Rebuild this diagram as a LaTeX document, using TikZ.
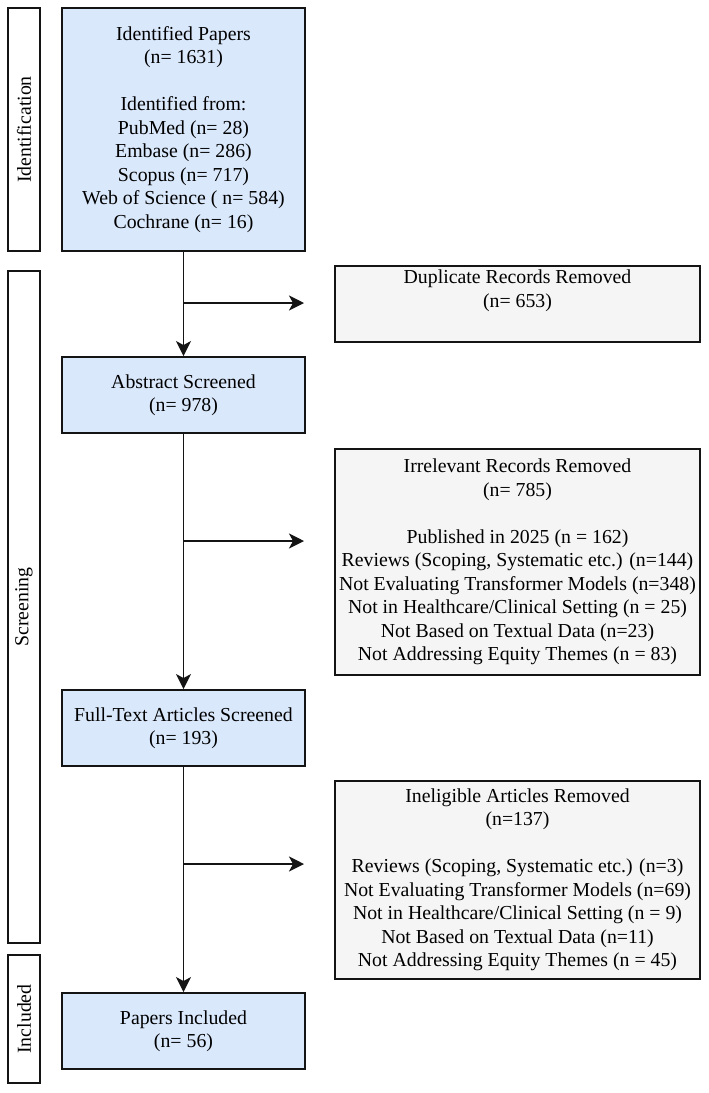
\documentclass[tikz,border=0pt]{standalone}
\usepackage{fontspec}
\setmainfont{Liberation Serif}
\usetikzlibrary{arrows.meta}
\definecolor{blueF}{HTML}{DAE8FC}
\definecolor{grayF}{HTML}{F5F5F5}
\definecolor{lineC}{HTML}{141414}
\begin{document}
\begin{tikzpicture}[x=1pt,y=-1pt,
  every node/.style={font=\fontsize{19.8}{23.5}\selectfont, inner sep=0pt, align=center, text=black},
  box/.style={draw=lineC, line width=1.9pt, rectangle},
  bluebox/.style={box, fill=blueF, minimum width=243pt},
  graybox/.style={box, fill=grayF, minimum width=365pt},
  sidebox/.style={box, fill=white, rotate=90, minimum height=32pt},
  flow/.style={draw=lineC, line width=1.9pt},
  arr/.style={flow, -{Stealth[length=15pt,width=15pt,inset=4pt]}}]
\useasboundingbox (0,0) rectangle (709,1093);

% stage boxes on the left
\node[sidebox, minimum width=243pt] (sid) at (24,129.5) {Identification};
\node[sidebox, minimum width=672pt] (sscr) at (24,607) {Screening};
\node[sidebox, minimum width=128pt] (sinc) at (24,1019) {Included};

% main flow
\node[bluebox, minimum height=243pt] (id) at (183.5,129.5)
  {Identified Papers\\(n= 1631)\\[23.5pt]Identified from:\\PubMed (n= 28)\\Embase (n= 286)\\Scopus (n= 717)\\Web of Science ( n= 584)\\Cochrane (n= 16)};
\node[bluebox, minimum height=76pt] (abs) at (183.5,395) {Abstract Screened\\(n= 978)};
\node[bluebox, minimum height=76pt] (ft) at (183.5,728) {Full-Text Articles Screened\\(n= 193)};
\node[bluebox, minimum height=76pt] (inc) at (183.5,1031) {Papers Included\\(n= 56)};

% exclusion boxes
\node[graybox, minimum height=76pt] (dup) at (517.5,304) {Duplicate Records Removed\\(n= 653)\\\strut};
\node[graybox, minimum height=226pt] (irr) at (517.5,562)
  {Irrelevant Records Removed\\(n= 785)\\[23.5pt]Published in 2025 (n = 162)\\Reviews (Scoping, Systematic etc.) (n=144)\\Not Evaluating Transformer Models (n=348)\\Not in Healthcare/Clinical Setting (n = 25)\\Not Based on Textual Data (n=23)\\Not Addressing Equity Themes (n = 83)};
\node[graybox, minimum height=198pt] (inel) at (517.5,880)
  {Ineligible Articles Removed\\(n=137)\\[23.5pt]Reviews (Scoping, Systematic etc.) (n=3)\\Not Evaluating Transformer Models (n=69)\\Not in Healthcare/Clinical Setting (n = 9)\\Not Based on Textual Data (n=11)\\Not Addressing Equity Themes (n = 45)};

% junctions and arrow ends
\coordinate (j1) at (183.5,303);
\coordinate (e1) at (304,303);
\coordinate (j2) at (183.5,541);
\coordinate (e2) at (304,541);
\coordinate (j3) at (183.5,864);
\coordinate (e3) at (304,864);

\draw[arr] (id.south) -- (abs.north);
\draw[arr] (abs.south) -- (ft.north);
\draw[arr] (ft.south) -- (inc.north);
\draw[arr] (j1) -- (e1);
\draw[arr] (j2) -- (e2);
\draw[arr] (j3) -- (e3);
\end{tikzpicture}
\end{document}
